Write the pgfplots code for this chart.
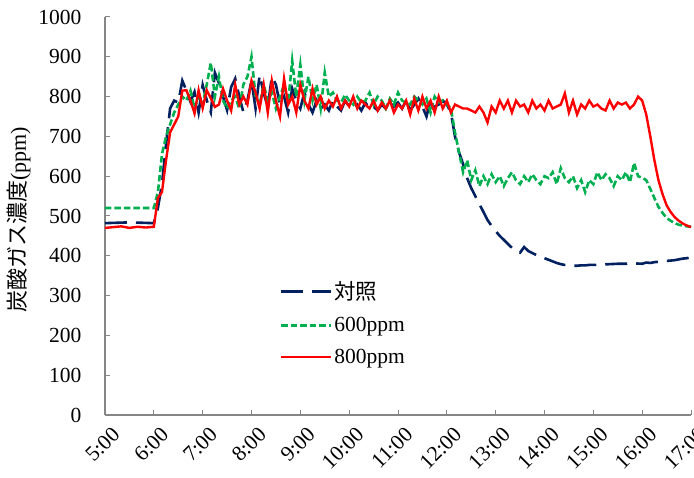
\documentclass[border=0pt]{standalone}
\usepackage{pgfplots}
\pgfplotsset{compat=1.18}
\usepackage{fontspec}
\setmainfont{Liberation Serif}
\newfontfamily\jp{Noto Sans CJK JP}
\definecolor{navy}{RGB}{0,32,96}
\definecolor{grn}{RGB}{0,176,80}
\definecolor{rd}{RGB}{255,0,0}
\definecolor{axgray}{RGB}{134,134,134}
\begin{document}
\begin{tikzpicture}
\path[use as bounding box] (-105pt,-63pt) rectangle (589pt,415pt);
\begin{axis}[
  at={(0,0)}, anchor=south west,
  scale only axis, width=586pt, height=398pt,
  xmin=300, xmax=1020, ymin=0, ymax=1000,
  axis lines*=left,
  axis line style={axgray, line width=1.6pt},
  tick align=inside,
  major tick length=5pt,
  tick style={axgray, line width=1pt},
  xtick={300,360,...,1020},
  xticklabels={5:00,6:00,7:00,8:00,9:00,10:00,11:00,12:00,13:00,14:00,15:00,16:00,17:00},
  ytick={0,100,...,1000},
  /pgf/number format/assume math mode=true,
  /pgf/number format/1000 sep={},
  tick label style={font=\fontsize{21.5}{23}\selectfont, text=black},
  yticklabel style={xshift=-20pt},
  xticklabel style={rotate=45, anchor=east, yshift=-19pt, xshift=0pt},
  ylabel={{\jp 炭酸ガス濃度}(ppm)},
  ylabel style={font=\fontsize{22}{24}\selectfont, at={(axis description cs:-0.147,0.49)}, anchor=center, rotate=0},
  legend style={draw=none, fill=none, at={(0.298,0.34)}, anchor=north west,
    font=\fontsize{21.5}{23}\selectfont, row sep=12pt, inner sep=0pt},
  legend cell align=left,
  legend image code/.code={\draw[#1, line width=2.6pt] (0pt,0pt) -- (50pt,0pt);},
  legend style={nodes={inner sep=2pt}},
  clip=false,
]
\addplot[navy, line width=2.6pt, dash pattern=on 22pt off 9pt] table {
300 482
330 484
360 482
365 520
370 580
375 680
380 770
385 790
390 785
395 840
400 815
405 787
410 812
415 760
420 829
425 791
430 761
435 860
440 834
445 800
450 766
455 824
460 845
465 800
470 761
475 790
480 840
485 770
490 854
495 809
500 774
505 850
510 830
515 780
520 800
525 760
530 820
535 790
540 770
545 810
550 780
555 760
560 790
565 770
570 780
575 765
580 790
585 775
590 765
595 790
600 775
605 770
610 780
615 765
620 785
625 770
630 775
635 765
640 780
645 770
650 790
655 775
660 785
665 770
670 790
675 765
680 780
685 795
690 775
695 750
700 790
705 775
710 780
715 790
720 780
725 760
730 700
735 660
740 630
745 595
750 570
755 550
760 530
765 510
770 490
775 475
780 462
785 450
790 440
795 430
800 420
805 412
810 408
815 422
820 412
825 407
830 402
835 398
840 394
845 390
850 386
855 382
860 379
865 377
870 376
875 375
880 375
885 376
890 376
895 377
900 377
910 378
920 379
930 380
940 380
950 381
960 380
965 383
970 382
975 384
980 385
985 386
990 387
995 388
1000 389
1005 391
1010 393
1015 394
1020 396
};
\addlegendentry{{\jp 対照}}
\addplot[grn, line width=2.6pt, dash pattern=on 6.5pt off 3pt] table {
300 520
330 520
360 520
365 560
370 655
375 700
380 730
385 760
390 780
395 800
400 790
405 815
410 770
415 800
420 780
425 830
430 885
435 800
440 850
445 790
450 770
455 790
460 800
465 770
470 830
475 850
480 900
485 800
490 780
495 830
500 790
505 810
510 770
515 800
520 830
525 785
530 890
535 800
540 880
545 790
550 850
555 790
560 830
565 770
570 860
575 800
580 810
585 790
590 785
595 805
600 790
605 780
610 800
615 785
620 790
625 810
630 780
635 800
640 790
645 770
650 795
655 780
660 810
665 790
670 785
675 780
680 800
685 790
690 780
695 795
700 760
705 800
710 785
715 790
720 780
725 770
730 710
735 660
740 610
745 640
750 590
755 615
760 575
765 600
770 580
775 605
780 585
785 600
790 575
795 595
800 610
805 590
810 580
815 600
820 585
825 605
830 590
835 580
840 600
845 595
850 610
855 580
860 620
865 595
870 585
875 600
880 570
885 590
890 560
895 590
900 580
905 610
910 590
915 605
920 595
925 575
930 600
935 590
940 610
945 585
950 633
955 600
960 596
965 590
970 568
975 545
980 523
985 508
990 495
995 488
1000 482
1005 478
1010 476
1015 474
1020 473
};
\addlegendentry{600ppm}
\addplot[rd, line width=2.4pt] table {
300 470
310 472
320 474
330 470
340 473
350 471
360 473
365 545
370 560
375 640
380 710
385 730
390 750
395 815
400 816
405 790
410 758
415 816
420 771
425 816
430 796
435 774
440 780
445 820
450 790
455 765
460 830
465 780
470 800
475 780
480 840
485 810
490 770
495 830
500 760
505 840
510 790
515 750
520 845
525 780
530 800
535 760
540 830
545 790
550 770
555 820
560 780
565 800
570 770
575 790
580 775
585 800
590 770
595 790
600 775
605 800
610 770
615 790
620 780
625 770
630 790
635 765
640 785
645 770
650 790
655 760
660 780
665 770
670 790
675 755
680 795
685 765
690 800
695 770
700 790
705 760
710 800
715 770
720 790
725 760
730 780
735 775
740 770
745 770
750 765
755 760
760 775
765 760
770 735
775 775
780 760
785 790
790 770
795 790
800 760
805 790
810 775
815 780
820 760
825 790
830 770
835 780
840 765
845 790
850 770
855 775
860 780
865 808
870 760
875 790
880 755
885 780
890 770
895 790
900 775
905 780
910 770
915 765
920 790
925 770
930 785
935 780
940 785
945 770
950 780
955 800
960 790
965 755
970 700
975 640
980 590
985 555
990 527
995 510
1000 497
1005 488
1010 481
1015 476
1020 472
};
\addlegendentry{800ppm}
\end{axis}
\end{tikzpicture}
\end{document}
